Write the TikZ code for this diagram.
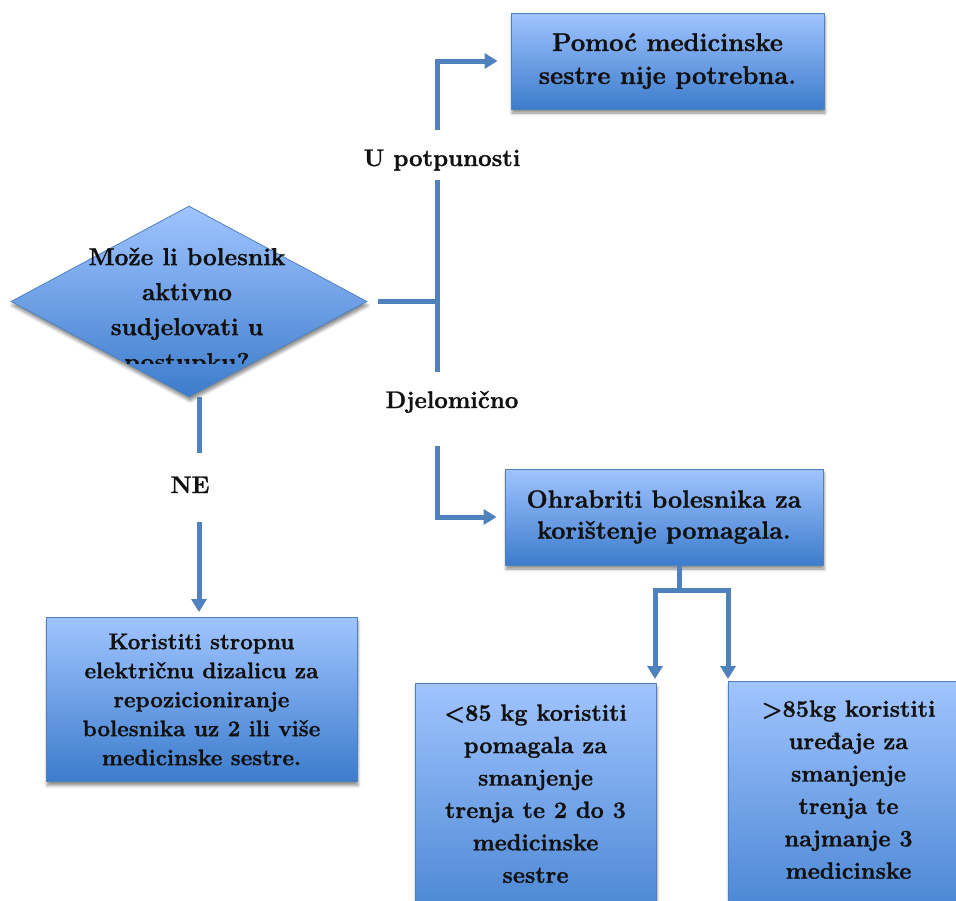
\documentclass[tikz,border=0pt]{standalone}
\usepackage{fontspec}
\setmainfont{Latin Modern Roman}[BoldFeatures={FakeBold=1.2}]
\usetikzlibrary{shapes.geometric,arrows.meta,shadows.blur}
\definecolor{lineblue}{RGB}{79,129,189}
\definecolor{topfill}{RGB}{160,196,255}
\definecolor{botfill}{RGB}{60,124,204}
\definecolor{txt}{RGB}{17,17,17}
\begin{document}
\begin{tikzpicture}[x=1pt,y=-1pt,
  shade/.style={draw=lineblue, line width=0.8pt, top color=topfill, bottom color=botfill,
    blur shadow={shadow xshift=1pt, shadow yshift=-4pt, shadow blur radius=3pt, shadow opacity=45}},
  box/.style={shade, text=txt, align=center, inner sep=0pt},
  conn/.style={draw=lineblue, line width=5pt},
  arr/.style={conn, -{Triangle[width=15pt,length=13pt]}},
  lab/.style={text=txt, font=\fontsize{24}{29}\selectfont\bfseries, inner sep=0pt}]
\useasboundingbox (0,0) rectangle (956,900);
\clip (0,0) rectangle (956,900);

% boxes
\node[box, minimum width=313pt, minimum height=96pt,
  font=\fontsize{25.5}{33}\selectfont\bfseries] (t1) at (667.5,61)
  {Pomoć medicinske\\sestre nije potrebna.};

\node[diamond, shade, minimum width=356pt, minimum height=191pt, inner sep=0pt] (dia) at (189,301.5) {};
\begin{scope}
  \clip (0,200) rectangle (400,363.5);
  \node[text=txt, align=center, inner sep=0pt, anchor=north,
    font=\fontsize{24.5}{35}\selectfont\bfseries] (diatext) at (187,247.5)
    {Može li bolesnik\\aktivno\\sudjelovati u\\postupku?};
\end{scope}

\node[box, minimum width=318pt, minimum height=96pt,
  font=\fontsize{25}{31}\selectfont\bfseries] (t2) at (664,517)
  {Ohrabriti bolesnika za\\korištenje pomagala.};

\node[box, minimum width=311pt, minimum height=164pt,
  font=\fontsize{22.5}{29}\selectfont\bfseries] (b1) at (201.5,699.5)
  {Koristiti stropnu\\električnu dizalicu za\\repozicioniranje\\bolesnika uz 2 ili više\\medicinske sestre.};

\node[box, anchor=north, inner xsep=0pt, inner ysep=21pt,
  font=\fontsize{23.5}{32.4}\selectfont\bfseries] (b2) at (535.5,683)
  {\parbox[c][230pt][t]{241pt}{\centering <85 kg koristiti\\pomagala za\\smanjenje\\trenja te 2 do 3\\medicinske\\sestre}};

\node[box, anchor=north, inner xsep=0pt, inner ysep=19pt,
  font=\fontsize{23.5}{32.4}\selectfont\bfseries] (b3) at (848.5,681)
  {\parbox[c][230pt][t]{241pt}{\centering >85kg koristiti\\uređaje za\\smanjenje\\trenja te\\najmanje 3\\medicinske}};

% labels
\node[lab, anchor=base] (lu) at (442,166) {U potpunosti};
\node[lab, anchor=base] (ld) at (452,408) {Djelomično};
\node[lab, anchor=base] (lne) at (190,493) {NE};

% connector coordinates
\coordinate (J) at (437,301.5);
\coordinate (uT) at (437,130);
\coordinate (uB) at (437,180);
\coordinate (dT) at (437,372);
\coordinate (dB) at (437,446);
\coordinate (nT) at (199,397);
\coordinate (nM) at (199,453);
\coordinate (nB) at (199,522);
\coordinate (s1) at (679,590);
\coordinate (a2) at (655,683);
\coordinate (a3) at (728,681);

% connectors
\draw[conn, shorten <=11pt] (dia.east) -- (J);
\draw[conn] (uB) -- (dT);
\draw[arr, shorten >=13pt] (uT) |- (t1.west);
\draw[arr, shorten >=8pt] (dB) |- (t2.west);
\draw[conn] (nT) -- (nM);
\draw[arr, shorten >=5pt] (nB) -- (nB |- b1.north);
\draw[conn] (t2.south -| s1) -- (s1);
\draw[arr, shorten >=4pt] (s1) -| (a2);
\draw[arr, shorten >=2pt] (s1) -| (a3);
\end{tikzpicture}
\end{document}
